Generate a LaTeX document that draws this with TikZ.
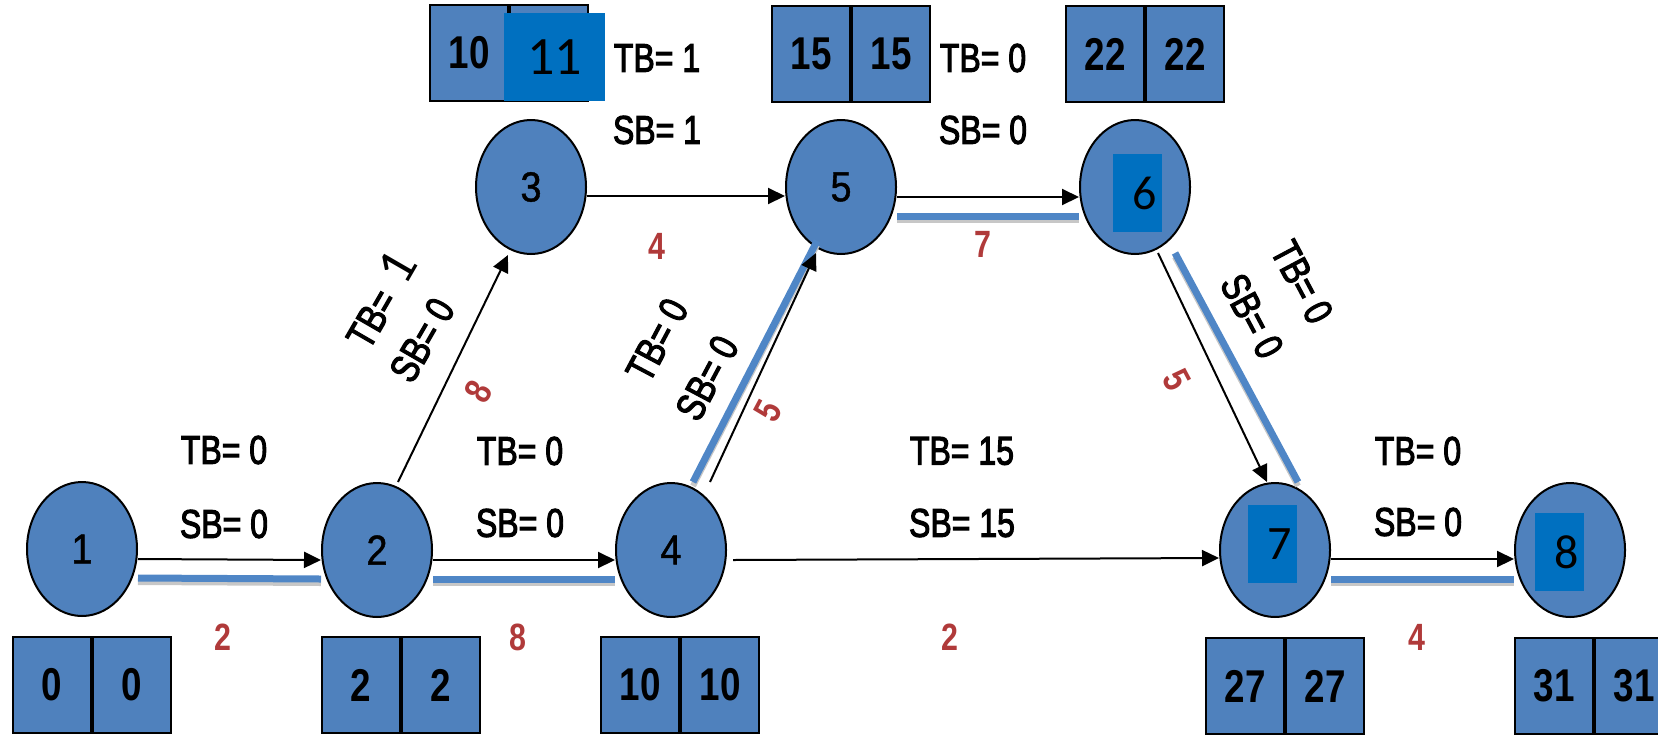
\documentclass[tikz,border=0pt]{standalone}
\usepackage{graphicx}
\usepackage{fontspec}
\setmainfont{Liberation Sans}
\newfontfamily\calib{Carlito}
\newfontfamily\semib[FakeBold=3]{Liberation Sans}
\newfontfamily\lightb[FakeBold=1]{Liberation Sans}
\usetikzlibrary{shapes.geometric,arrows.meta,calc}
\definecolor{nodeblue}{HTML}{4F81BD}
\definecolor{overblue}{HTML}{0070C0}
\definecolor{durred}{HTML}{B03A3A}
\definecolor{critblue}{HTML}{4F86C6}
\newcommand{\sq}[1]{\scalebox{0.8}[1]{#1}}
\newcommand{\sqn}[1]{\scalebox{0.9}[1]{#1}}
\newcommand{\critline}[2]{%
  \draw[critshadow,transform canvas={yshift=-2pt}] #1 -- #2;
  \draw[crit] #1 -- #2;}
\tikzset{
  x=0.5pt, y=-0.5pt,
  event/.style={ellipse, draw=black, line width=1pt, fill=nodeblue,
    minimum width=55pt, minimum height=67pt, inner sep=0pt,
    font=\lightb\fontsize{21}{21}\selectfont},
  half/.style={rectangle, draw=black, line width=1pt, fill=nodeblue,
    minimum width=39pt, minimum height=48pt, inner sep=0pt,
    font=\bfseries\fontsize{23}{23}\selectfont},
  slack/.style={inner sep=0pt, font=\semib\fontsize{20}{20}\selectfont},
  dur/.style={inner sep=0pt, text=durred, font=\bfseries\fontsize{19}{19}\selectfont},
  act/.style={line width=1pt, -{Triangle[length=8.5pt,width=8pt]}},
  crit/.style={line width=3.5pt, critblue},
  critshadow/.style={line width=3pt, black!22},
  cover/.style={rectangle, fill=overblue, inner sep=0pt,
    font=\calib\fontsize{24}{24}\selectfont},
}
\begin{document}
\begin{tikzpicture}
\path[use as bounding box] (0,0) rectangle (1658,734);
\clip (0,0) rectangle (1658,734);

% events
\node[event] (n1) at (82,549)  {\sqn{1}};
\node[event] (n2) at (377,550) {\sqn{2}};
\node[event] (n3) at (531,187) {\sqn{3}};
\node[event] (n4) at (671,550) {\sqn{4}};
\node[event] (n5) at (841,187) {\sqn{5}};
\node[event] (n6) at (1135,187) {};
\node[event] (n7) at (1275,550) {};
\node[event] (n8) at (1570,550) {};

% time boxes
\node[half, anchor=north west] (b1l) at (12,636) {\sq{0}};
\node[half, anchor=west] (b1r) at (b1l.east) {\sq{0}};
\node[half, anchor=north west] (b2l) at (321,636) {\sq{2}};
\node[half, anchor=west] (b2r) at (b2l.east) {\sq{2}};
\node[half, anchor=north west] (b4l) at (600,636) {\sq{10}};
\node[half, anchor=west] (b4r) at (b4l.east) {\sq{10}};
\node[half, anchor=north west] (b7l) at (1205,637) {\sq{27}};
\node[half, anchor=west] (b7r) at (b7l.east) {\sq{27}};
\node[half, anchor=north west] (b8l) at (1514,637) {\sq{31}};
\node[half, anchor=west] (b8r) at (b8l.east) {\sq{31}};
\node[half, anchor=north west] (b3l) at (429,4) {\sq{10}};
\node[half, anchor=west] (b3r) at (b3l.east) {};
\node[half, anchor=north west] (b5l) at (771,5) {\sq{15}};
\node[half, anchor=west] (b5r) at (b5l.east) {\sq{15}};
\node[half, anchor=north west] (b6l) at (1065,5) {\sq{22}};
\node[half, anchor=west] (b6r) at (b6l.east) {\sq{22}};

% critical path highlights
\critline{($(n1.east)+(0,29)$)}{($(n2.west)+(0,29)$)}
\critline{($(n2.east)+(0,29)$)}{($(n4.west)+(0,29)$)}
\critline{($(n7.east)+(0,29)$)}{($(n8.west)+(0,29)$)}
\critline{($(n5.east)+(0,29)$)}{($(n6.west)+(0,29)$)}
\critline{($(n4.north)+(22,0)$)}{($(n5.center)+(-24,54)$)}
\critline{($(n6.center)+(40,66)$)}{($(n7.center)+(23,-68)$)}

% activities
\draw[act] ($(n1.east)+(0,10)$) -- ($(n2.west)+(0,10)$);
\draw[act] ($(n2.east)+(0,10)$) -- ($(n4.west)+(0,10)$);
\draw[act] ($(n4.east)+(6,10)$) -- ($(n7.west)+(0,8)$);
\draw[act] ($(n7.east)+(0,9)$) -- ($(n8.west)+(0,9)$);
\draw[act] ($(n3.east)+(0,9)$) -- ($(n5.west)+(0,9)$);
\draw[act] ($(n5.east)+(0,10)$) -- ($(n6.west)+(0,10)$);
\draw[act] ($(n2.north)+(21,0)$) -- ($(n3.center)+(-23,68)$);
\draw[act] ($(n4.north)+(39,0)$) -- ($(n5.center)+(-25,66)$);
\draw[act] ($(n6.center)+(23,66)$) -- ($(n7.center)+(-8,-68)$);

% cover boxes
\node[cover, minimum width=50.5pt, minimum height=44pt] (c3) at (554.5,57) {\fontsize{27}{27}\selectfont 11};
\node[cover, minimum width=24.5pt, minimum height=39pt] (c6) at (1137.5,193) {\hspace*{7pt}6};
\node[cover, minimum width=24.5pt, minimum height=39pt] (c7) at (1272.5,544) {\hspace*{7pt}7};
\node[cover, minimum width=24.5pt, minimum height=39pt] (c8) at (1559.5,552) {\hspace*{7pt}8};

% slack labels, horizontal
\node[slack] (tb12) at (224,450) {\sq{TB= 0}};
\node[slack] (sb12) at (224,524) {\sq{SB= 0}};
\node[slack] (tb24) at (520,451) {\sq{TB= 0}};
\node[slack] (sb24) at (520,523) {\sq{SB= 0}};
\node[slack] (tb47) at (962,451) {\sq{TB= 15}};
\node[slack] (sb47) at (962,523) {\sq{SB= 15}};
\node[slack] (tb78) at (1418,451) {\sq{TB= 0}};
\node[slack] (sb78) at (1418,522) {\sq{SB= 0}};
\node[slack] (tb35) at (657,58) {\sq{TB= 1}};
\node[slack] (sb35) at (657,130) {\sq{SB= 1}};
\node[slack] (tb56) at (983,58) {\sq{TB= 0}};
\node[slack] (sb56) at (983,130) {\sq{SB= 0}};

% slack labels, rotated
\node[slack, rotate=60] (tb23) at (379,299) {\sq{TB=}\hspace{7pt}{\calib\fontsize{27}{27}\selectfont 1}};
\node[slack, rotate=60] (sb23) at (422,340) {\sq{SB= 0}};
\node[slack, rotate=62] (tb45) at (657,340) {\sq{TB= 0}};
\node[slack, rotate=62] (sb45) at (707,378) {\sq{SB= 0}};
\node[slack, rotate=-62] (tb67) at (1302,282) {\sq{TB= 0}};
\node[slack, rotate=-62] (sb67) at (1252,316) {\sq{SB= 0}};

% durations
\node[dur] (d12) at (223,637) {\sq{2}};
\node[dur] (d24) at (518,637) {\sq{8}};
\node[dur] (d47) at (950,637) {\sq{2}};
\node[dur] (d78) at (1417,637) {\sq{4}};
\node[dur] (d35) at (657,246) {\sq{4}};
\node[dur] (d56) at (983,244) {\sq{7}};
\node[dur, rotate=60] (d23) at (478,392) {\sq{8}};
\node[dur, rotate=62] (d45) at (768,411) {\sq{5}};
\node[dur, rotate=-62] (d67) at (1177,380) {\sq{5}};
\end{tikzpicture}
\end{document}
